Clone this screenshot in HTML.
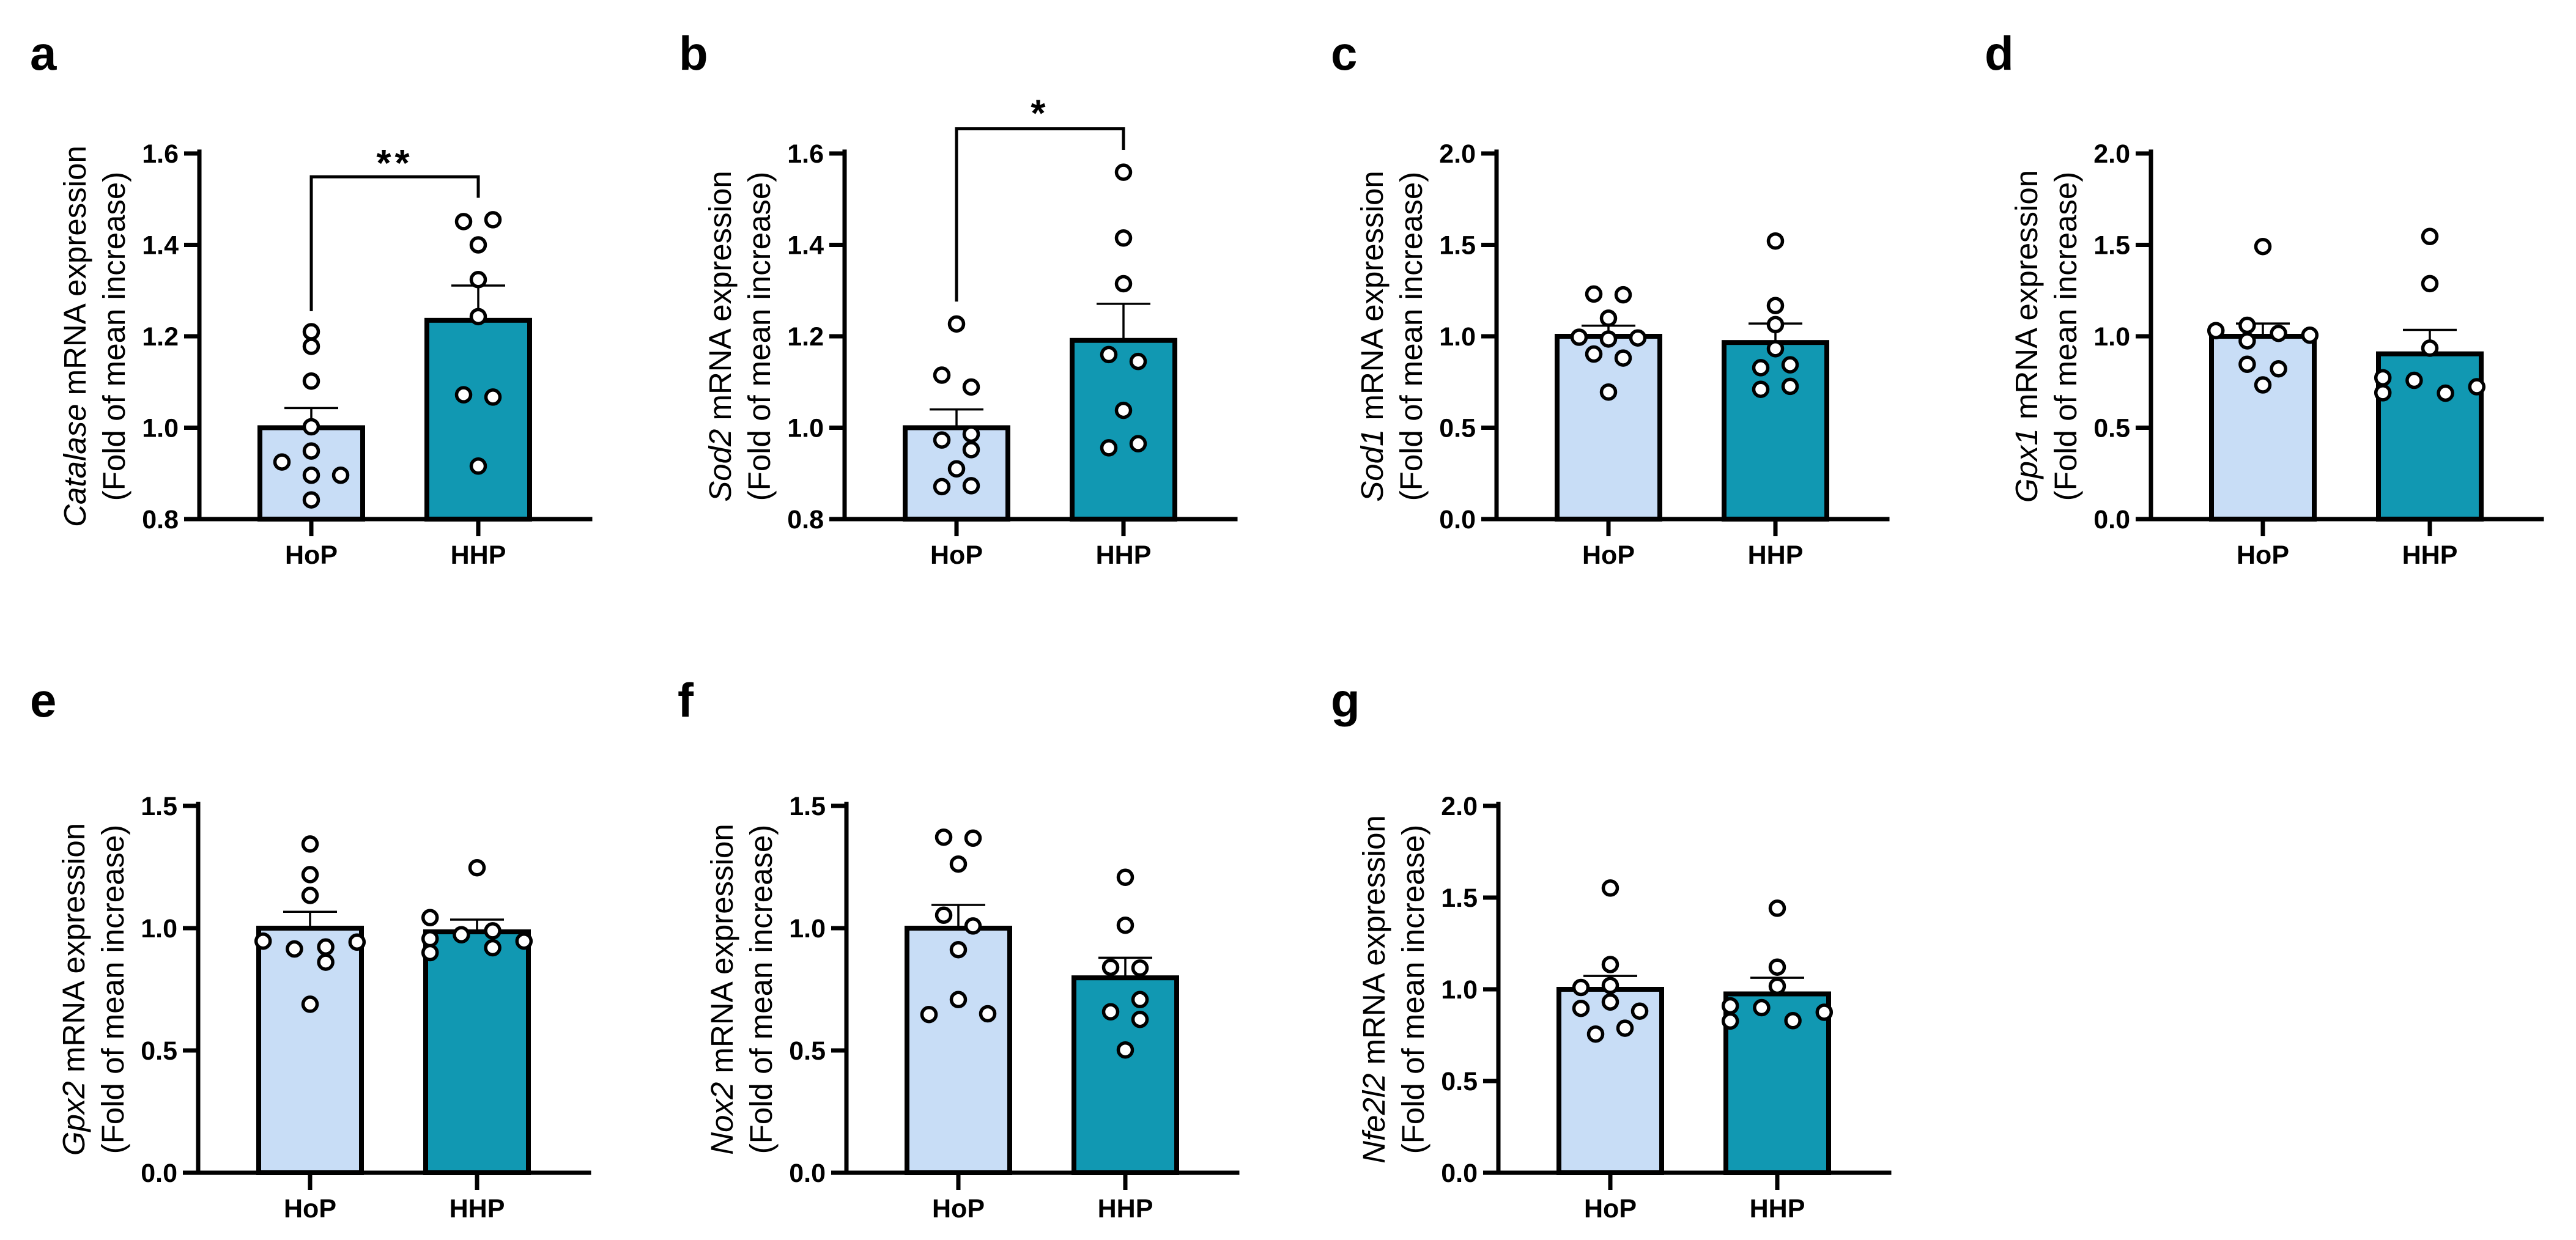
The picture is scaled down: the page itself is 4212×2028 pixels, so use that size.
<!DOCTYPE html>
<html><head><meta charset="utf-8"><style>
html,body{margin:0;padding:0;background:#fff;}
svg{display:block;}
</style></head><body>
<svg id="fig" xmlns="http://www.w3.org/2000/svg" width="4212" height="2028" viewBox="0 0 4212 2028"></svg>
<script>
// ---------- data ----------
const groups = ["HoP", "HHP"];
const panelLetters = ["a","b","c","d","e","f","g"];
const genes = ["Catalase","Sod2","Sod1","Gpx1","Gpx2","Nox2","Nfe2l2"];
const ticksAB = ["0.8","1.0","1.2","1.4","1.6"];
const ticksCDG = ["0.0","0.5","1.0","1.5","2.0"];
const ticksEF = ["0.0","0.5","1.0","1.5"];

const aHoP = [1.21,1.178,1.102,1.002,0.949,0.925,0.896,0.896,0.842];
const aHoPcol = [0,0,0,0,0,-3,0,3,0];
const aHHP = [1.451,1.455,1.40,1.324,1.243,1.072,1.067,0.916];
const aHHPcol = [-1.5,1.5,0,0,0,-1.5,1.5,0];
const aMean = [1.0,1.235];
const aSem = [0.043,0.076];

const bHoP = [1.227,1.115,1.089,0.986,0.973,0.952,0.91,0.871,0.873];
const bHoPcol = [0,-1.5,1.5,1.5,-1.5,1.5,0,-1.5,1.5];
const bHHP = [1.559,1.415,1.315,1.16,1.145,1.038,0.956,0.965];
const bHHPcol = [0,0,0,-1.5,1.5,0,-1.5,1.5];
const bMean = [1.0,1.191];
const bSem = [0.04,0.08];

const cHoP = [1.231,1.227,1.099,0.995,0.985,0.991,0.903,0.881,0.695];
const cHoPcol = [-1.5,1.5,0,-3,0,3,-1.5,1.5,0];
const cHHP = [1.521,1.168,1.064,0.932,0.828,0.844,0.71,0.726];
const cHHPcol = [0,0,0,0,-1.5,1.5,-1.5,1.5];
const cMean = [1.0,0.966];
const cSem = [0.058,0.104];

const dHoP = [1.491,1.031,1.06,1.016,1.006,0.975,0.847,0.822,0.734];
const dHoPcol = [0,-4.8,-1.6,1.6,4.8,-1.6,-1.6,1.6,0];
const dHHP = [1.546,1.288,0.935,0.773,0.691,0.759,0.689,0.724];
const dHHPcol = [0,0,0,-4.8,-4.8,-1.6,1.6,4.8];
const dMean = [1.0,0.904];
const dSem = [0.07,0.131];

const eHoP = [1.344,1.219,1.134,0.947,0.943,0.915,0.923,0.861,0.689];
const eHoPcol = [0,0,0,-4.8,4.8,-1.6,1.6,1.6,0];
const eHHP = [1.247,1.043,0.957,0.9,0.973,0.989,0.92,0.947];
const eHHPcol = [0,-4.8,-4.8,-4.8,-1.6,1.6,1.6,4.8];
const eMean = [1.0,0.985];
const eSem = [0.067,0.05];

const fHoP = [1.372,1.368,1.262,1.053,1.009,0.912,0.708,0.647,0.65];
const fHoPcol = [-1.5,1.5,0,-1.5,1.5,0,0,-3,3];
const fHHP = [1.208,1.012,0.84,0.837,0.708,0.658,0.627,0.502];
const fHHPcol = [0,0,-1.5,1.5,1.5,-1.5,1.5,0];
const fMean = [1.0,0.797];
const fSem = [0.095,0.082];

const gHoP = [1.552,1.135,1.01,1.021,0.931,0.896,0.881,0.788,0.756];
const gHoPcol = [0,0,-3,0,0,-3,3,1.5,-1.5];
const gHHP = [1.442,1.121,1.017,0.91,0.827,0.9,0.829,0.875];
const gHHPcol = [0,0,0,-4.8,-4.8,-1.6,1.6,4.8];
const gMean = [1.0,0.975];
const gSem = [0.073,0.088];

// significance: [bracket y, left leg end, right leg end, star y] in data units
const aSig = [1.549,1.255,1.503,1.596];
const bSig = [1.654,1.276,1.608,1.705];
const sigLabels = ["**","*"];

// ---------- drawing ----------
const NS = "http://www.w3.org/2000/svg";
const svg = document.getElementById("fig");
function mk(tag, attrs, parent){
  const e = document.createElementNS(NS, tag);
  for (const k in attrs) e.setAttribute(k, attrs[k]);
  (parent||svg).appendChild(e);
  return e;
}
const LIGHT = "#c8ddf6", TEAL = "#1198b2";
const JIT = 16;

function panel(p){
  const g = mk("g", {});
  
  
  const ax = p.ax, top = p.top, bot = p.bot;
  const ticks = p.ticks;
  const yMin = parseFloat(ticks[0]), yMax = parseFloat(ticks[ticks.length-1]);
  const y = v => bot - (v - yMin) / (yMax - yMin) * (bot - top);
  const xs = [ax + 183, ax + 456];

  const L = mk("text", {x: p.lx, y: p.ly, "font-family": "Liberation Sans, sans-serif", "font-size": 78, "font-weight": "bold", fill: "#000"}, g);
  L.textContent = p.letter;
  
  

  const fills = [LIGHT, TEAL];
  for (let i = 0; i < 2; i++){
    const yt = y(p.mean[i]);
    const r = mk("rect", {x: xs[i]-84, y: yt, width: 168, height: bot - yt, fill: fills[i], stroke: "#000", "stroke-width": 8}, g);
    
    
    const ye = y(p.mean[i] + p.sem[i]);
    const el = mk("path", {d: `M${xs[i]} ${yt} V${ye} M${xs[i]-44} ${ye} H${xs[i]+44}`, stroke: "#000", "stroke-width": 3.5, fill: "none"}, g);
    
    
  }
  const axes = mk("path", {d: `M${ax} ${top-3} V${bot} H${ax+639}`, stroke: "#000", "stroke-width": 7, fill: "none", "stroke-linecap": "square"}, g);
  
  
  ticks.forEach(t => {
    const ty = y(parseFloat(t));
    const tk = mk("line", {x1: ax-25, x2: ax, y1: ty, y2: ty, stroke: "#000", "stroke-width": 7}, g);
    
    
    const tl = mk("text", {x: ax-34, y: ty+15, "text-anchor": "end", "font-family": "Liberation Sans, sans-serif", "font-size": 43, "font-weight": "bold"}, g);
    tl.textContent = t;
    
    
  });
  groups.forEach((gn, i) => {
    const tk = mk("line", {x1: xs[i], x2: xs[i], y1: bot, y2: bot+28, stroke: "#000", "stroke-width": 7}, g);
    
    
    const tl = mk("text", {x: xs[i], y: bot+73, "text-anchor": "middle", "font-family": "Liberation Sans, sans-serif", "font-size": 43, "font-weight": "bold"}, g);
    tl.textContent = gn;
    
    
  });
  const cy = (top + bot) / 2;
  const t1 = mk("text", {x: 0, y: 0, transform: `translate(${ax-186},${cy}) rotate(-90)`, "text-anchor": "middle", "font-family": "Liberation Sans, sans-serif", "font-size": 51}, g);
  
  
  const it = mk("tspan", {"font-style": "italic"}, t1); it.textContent = p.gene;
  const rest = mk("tspan", {}, t1); rest.textContent = " mRNA expression";
  const t2 = mk("text", {x: 0, y: 0, transform: `translate(${ax-122},${cy}) rotate(-90)`, "text-anchor": "middle", "font-family": "Liberation Sans, sans-serif", "font-size": 51}, g);
  t2.textContent = "(Fold of mean increase)";
  
  

  [[p.hop, p.hopCol], [p.hhp, p.hhpCol]].forEach((pair, i) => {
    pair[0].forEach((v, j) => {
      const c = mk("circle", {cx: xs[i] + pair[1][j]*JIT, cy: y(v), r: 11.5, fill: "#fff", stroke: "#000", "stroke-width": 5.5}, g);
      
      
    });
  });

  if (p.sig){
    const s = p.sig;
    const br = mk("path", {d: `M${xs[0]} ${y(s[1])} V${y(s[0])} H${xs[1]} V${y(s[2])}`, stroke: "#000", "stroke-width": 5, fill: "none"}, g);
    
    
    const st = mk("text", {x: (xs[0]+xs[1])/2, y: y(s[3]) + 34, "text-anchor": "middle", "font-family": "Liberation Sans, sans-serif", "font-size": 62, "font-weight": "bold", "letter-spacing": 6}, g);
    st.textContent = p.sigLabel;
    
    
  }
}

const T = 251, B = 849, T2 = 1318, B2 = 1918;
const LY1 = 114, LY2 = 1172;
panel({letter: panelLetters[0], gene: genes[0], ax: 326, top: T, bot: B, lx: 49, ly: LY1, ticks: ticksAB, hop: aHoP, hopCol: aHoPcol, hhp: aHHP, hhpCol: aHHPcol, mean: aMean, sem: aSem, sig: aSig, sigLabel: sigLabels[0]});
panel({letter: panelLetters[1], gene: genes[1], ax: 1381, top: T, bot: B, lx: 1110, ly: LY1, ticks: ticksAB, hop: bHoP, hopCol: bHoPcol, hhp: bHHP, hhpCol: bHHPcol, mean: bMean, sem: bSem, sig: bSig, sigLabel: sigLabels[1]});
panel({letter: panelLetters[2], gene: genes[2], ax: 2447, top: T, bot: B, lx: 2176, ly: LY1, ticks: ticksCDG, hop: cHoP, hopCol: cHoPcol, hhp: cHHP, hhpCol: cHHPcol, mean: cMean, sem: cSem});
panel({letter: panelLetters[3], gene: genes[3], ax: 3517, top: T, bot: B, lx: 3245, ly: LY1, ticks: ticksCDG, hop: dHoP, hopCol: dHoPcol, hhp: dHHP, hhpCol: dHHPcol, mean: dMean, sem: dSem});
panel({letter: panelLetters[4], gene: genes[4], ax: 324, top: T2, bot: B2, lx: 49, ly: LY2, ticks: ticksEF, hop: eHoP, hopCol: eHoPcol, hhp: eHHP, hhpCol: eHHPcol, mean: eMean, sem: eSem});
panel({letter: panelLetters[5], gene: genes[5], ax: 1384, top: T2, bot: B2, lx: 1108, ly: LY2, ticks: ticksEF, hop: fHoP, hopCol: fHoPcol, hhp: fHHP, hhpCol: fHHPcol, mean: fMean, sem: fSem});
panel({letter: panelLetters[6], gene: genes[6], ax: 2450, top: T2, bot: B2, lx: 2176, ly: LY2, ticks: ticksCDG, hop: gHoP, hopCol: gHoPcol, hhp: gHHP, hhpCol: gHHPcol, mean: gMean, sem: gSem});
</script>
</body></html>
